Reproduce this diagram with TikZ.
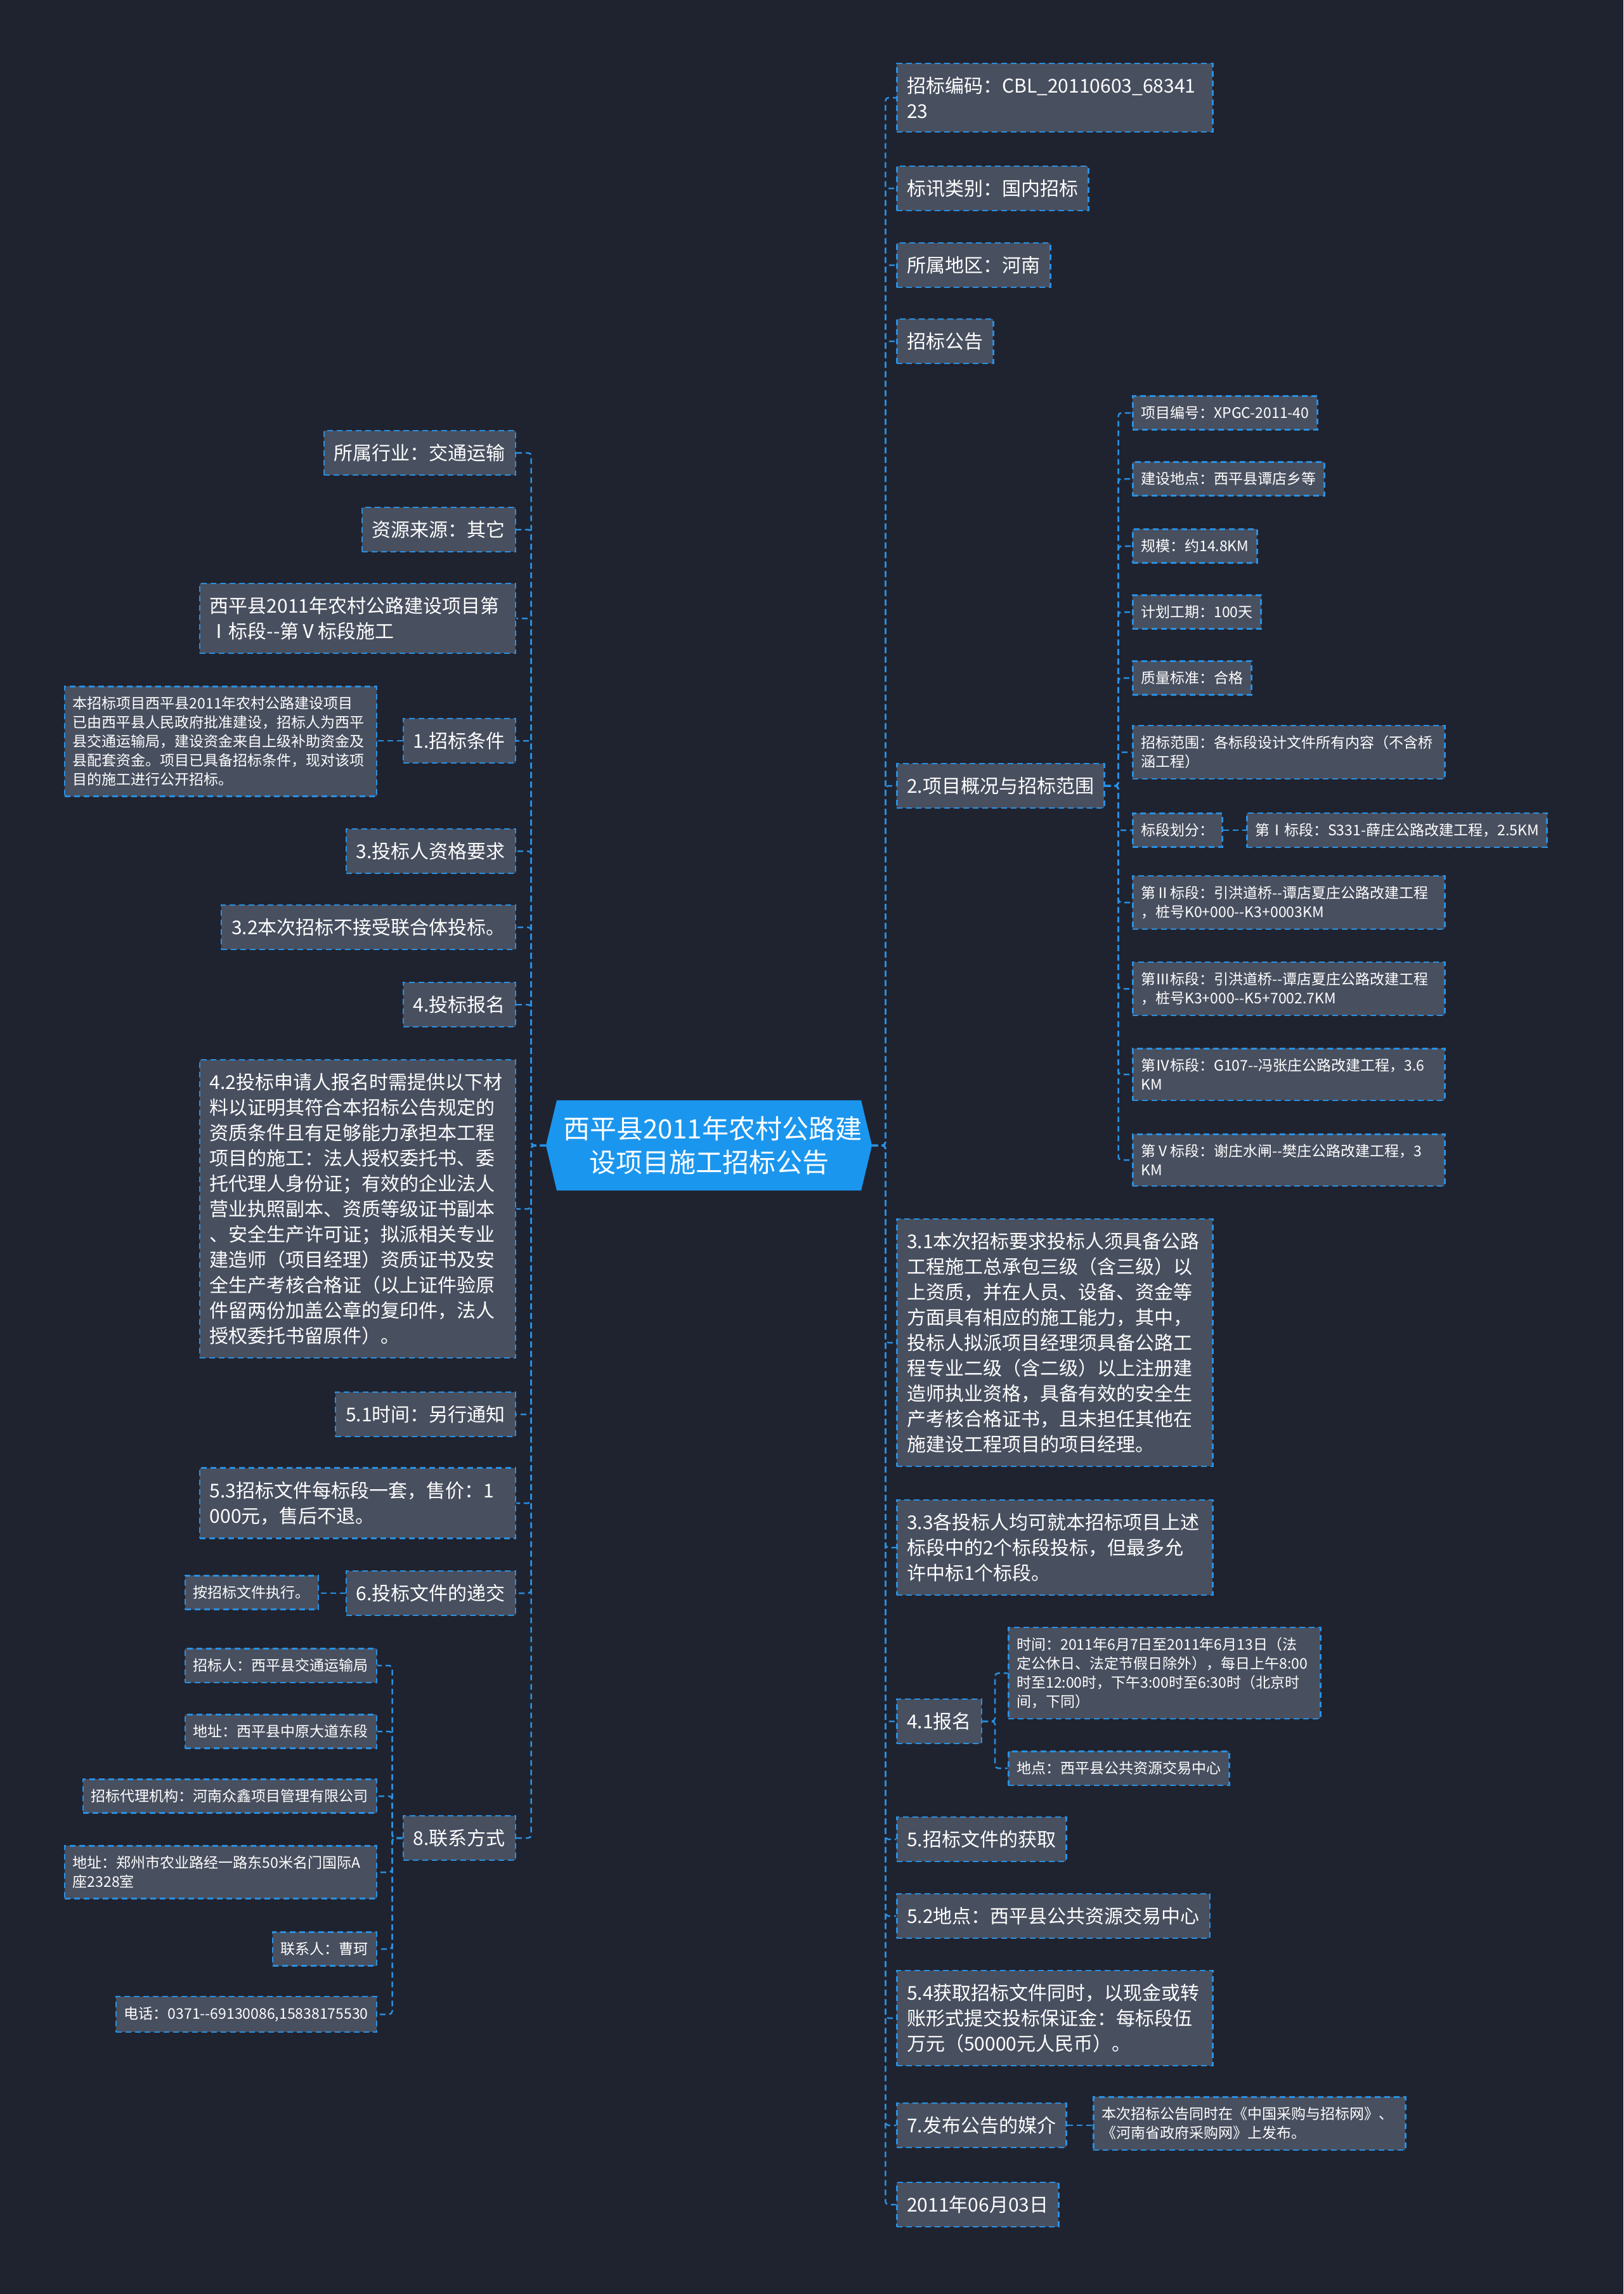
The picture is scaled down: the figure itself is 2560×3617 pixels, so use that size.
\documentclass[tikz,border=0pt]{standalone}
\usepackage{fontspec}
\newfontfamily\cjk{Noto Sans CJK SC}
\usetikzlibrary{shapes.symbols}
\definecolor{bgdark}{RGB}{31,35,48}
\definecolor{boxgray}{RGB}{72,79,95}
\definecolor{lineblue}{RGB}{40,144,226}
\definecolor{rootblue}{RGB}{27,150,238}
\newcommand{\dbldash}{-\kern0pt-}
\tikzset{
    node style root/.style={shape=signal,signal to=west and east,signal pointer angle=153,fill=rootblue,text=white,align=center,text width=460pt,inner xsep=10pt,inner ysep=25pt,font=\cjk\fontsize{42}{53}\selectfont},
    node style box/.style={draw=lineblue,fill=boxgray,text=white,align=left,line width=2.5pt,dash pattern=on 9pt off 6pt},
    node style topic/.style={node style box,inner xsep=16pt,inner ysep=21pt,font=\cjk\fontsize{30}{40}\selectfont},
    node style leaf/.style={node style box,inner xsep=13pt,inner ysep=16pt,font=\cjk\fontsize{23}{30}\selectfont},
    node style wide/.style={text width=466pt},
    edge style link/.style={draw=lineblue,line width=2.5pt,dash pattern=on 9pt off 6pt,rounded corners=5pt},
}

\begin{document}
\begin{tikzpicture}[x=1pt,y=-1pt]

\fill[bgdark] (0,0) rectangle (2560,3617);

\node [node style root] (root) at (1118,1806) {西平县2011年农村公路建\\设项目施工招标公告};

% right side
\node [node style topic,node style wide,anchor=west] (tenderCode) at (1413,154) {招标编码：CBL\_20110603\_68341\\23};
\node [node style topic,anchor=west] (tenderType) at (1413,297) {标讯类别：国内招标};
\node [node style topic,anchor=west] (region) at (1413,418) {所属地区：河南};
\node [node style topic,anchor=west] (notice) at (1413,538) {招标公告};
\node [node style topic,anchor=west] (overview) at (1413,1239) {2.项目概况与招标范围};
\node [node style topic,node style wide,anchor=west] (bidderReq) at (1413,2117) {3.1本次招标要求投标人须具备公路\\工程施工总承包三级（含三级）以\\上资质，并在人员、设备、资金等\\方面具有相应的施工能力，其中，\\投标人拟派项目经理须具备公路工\\程专业二级（含二级）以上注册建\\造师执业资格，具备有效的安全生\\产考核合格证书，且未担任其他在\\施建设工程项目的项目经理。};
\node [node style topic,node style wide,anchor=west] (twoLots) at (1413,2440) {3.3各投标人均可就本招标项目上述\\标段中的2个标段投标，但最多允\\许中标1个标段。};
\node [node style topic,anchor=west] (signUp) at (1413,2714) {4.1报名};
\node [node style topic,anchor=west] (getDocs) at (1413,2900) {5.招标文件的获取};
\node [node style topic,anchor=west] (getPlace) at (1413,3021) {5.2地点：西平县公共资源交易中心};
\node [node style topic,node style wide,anchor=west] (deposit) at (1413,3182) {5.4获取招标文件同时，以现金或转\\账形式提交投标保证金：每标段伍\\万元（50000元人民币）。};
\node [node style topic,anchor=west] (media) at (1413,3351) {7.发布公告的媒介};
\node [node style topic,anchor=west] (date) at (1413,3476) {2011年06月03日};

\node [node style leaf,anchor=west] (projNo) at (1785,651) {项目编号：XPGC-2011-40};
\node [node style leaf,anchor=west] (site) at (1785,755) {建设地点：西平县谭店乡等};
\node [node style leaf,anchor=west] (scale) at (1785,861) {规模：约14.8KM};
\node [node style leaf,anchor=west] (period) at (1785,965) {计划工期：100天};
\node [node style leaf,anchor=west] (quality) at (1785,1069) {质量标准：合格};
\node [node style leaf,node style wide,anchor=west] (scope) at (1785,1186) {招标范围：各标段设计文件所有内容（不含桥\\涵工程）};
\node [node style leaf,anchor=west] (lots) at (1785,1309) {标段划分：};
\node [node style leaf,anchor=west] (lotOne) at (1965,1309) {第Ⅰ标段：S331-薛庄公路改建工程，2.5KM};
\node [node style leaf,node style wide,anchor=west] (lotTwo) at (1785,1423) {第Ⅱ标段：引洪道桥\dbldash 谭店夏庄公路改建工程\\，桩号K0+000\dbldash K3+0003KM};
\node [node style leaf,node style wide,anchor=west] (lotThree) at (1785,1559) {第Ⅲ标段：引洪道桥\dbldash 谭店夏庄公路改建工程\\，桩号K3+000\dbldash K5+7002.7KM};
\node [node style leaf,node style wide,anchor=west] (lotFour) at (1785,1694) {第Ⅳ标段：G107\dbldash 冯张庄公路改建工程，3.6\\KM};
\node [node style leaf,node style wide,anchor=west] (lotFive) at (1785,1829) {第Ⅴ标段：谢庄水闸\dbldash 樊庄公路改建工程，3\\KM};

\node [node style leaf,node style wide,anchor=west] (signTime) at (1589,2638) {时间：2011年6月7日至2011年6月13日（法\\定公休日、法定节假日除外），每日上午8:00\\时至12:00时，下午3:00时至6:30时（北京时\\间，下同）};
\node [node style leaf,anchor=west] (signPlace) at (1589,2788) {地点：西平县公共资源交易中心};
\node [node style leaf,node style wide,anchor=west] (mediaText) at (1723,3348) {本次招标公告同时在《中国采购与招标网》、\\《河南省政府采购网》上发布。};

% left side
\node [node style topic,anchor=east] (industry) at (814,714) {所属行业：交通运输};
\node [node style topic,anchor=east] (source) at (814,835) {资源来源：其它};
\node [node style topic,node style wide,anchor=east] (title) at (814,975) {西平县2011年农村公路建设项目第\\Ⅰ标段\dbldash 第Ⅴ标段施工};
\node [node style topic,anchor=east] (condition) at (814,1168) {1.招标条件};
\node [node style topic,anchor=east] (bidderQual) at (814,1342) {3.投标人资格要求};
\node [node style topic,anchor=east] (noJoint) at (814,1462) {3.2本次招标不接受联合体投标。};
\node [node style topic,anchor=east] (register) at (814,1584) {4.投标报名};
\node [node style topic,node style wide,anchor=east] (materials) at (814,1906) {4.2投标申请人报名时需提供以下材\\料以证明其符合本招标公告规定的\\资质条件且有足够能力承担本工程\\项目的施工：法人授权委托书、委\\托代理人身份证；有效的企业法人\\营业执照副本、资质等级证书副本\\、安全生产许可证；拟派相关专业\\建造师（项目经理）资质证书及安\\全生产考核合格证（以上证件验原\\件留两份加盖公章的复印件，法人\\授权委托书留原件）。};
\node [node style topic,anchor=east] (saleTime) at (814,2230) {5.1时间：另行通知};
\node [node style topic,node style wide,anchor=east] (price) at (814,2370) {5.3招标文件每标段一套，售价：1\\000元，售后不退。};
\node [node style topic,anchor=east] (submit) at (814,2512) {6.投标文件的递交};
\node [node style topic,anchor=east] (contact) at (814,2898) {8.联系方式};

\node [node style leaf,node style wide,anchor=east] (condText) at (595,1169) {本招标项目西平县2011年农村公路建设项目\\已由西平县人民政府批准建设，招标人为西平\\县交通运输局，建设资金来自上级补助资金及\\县配套资金。项目已具备招标条件，现对该项\\目的施工进行公开招标。};
\node [node style leaf,anchor=east] (submitText) at (503,2511) {按招标文件执行。};
\node [node style leaf,anchor=east] (tenderer) at (595,2626) {招标人：西平县交通运输局};
\node [node style leaf,anchor=east] (addrOne) at (595,2730) {地址：西平县中原大道东段};
\node [node style leaf,anchor=east] (agency) at (595,2832) {招标代理机构：河南众鑫项目管理有限公司};
\node [node style leaf,node style wide,anchor=east] (addrTwo) at (595,2952) {地址：郑州市农业路经一路东50米名门国际A\\座2328室};
\node [node style leaf,anchor=east] (person) at (595,3073) {联系人：曹珂};
\node [node style leaf,anchor=east] (phone) at (595,3176) {电话：0371\dbldash 69130086,15838175530};

% links
\draw [edge style link] (root.east) -- ++(21,0) |- (tenderCode.west);
\draw [edge style link] (root.east) -- ++(21,0) |- (tenderType.west);
\draw [edge style link] (root.east) -- ++(21,0) |- (region.west);
\draw [edge style link] (root.east) -- ++(21,0) |- (notice.west);
\draw [edge style link] (root.east) -- ++(21,0) |- (overview.west);
\draw [edge style link] (root.east) -- ++(21,0) |- (bidderReq.west);
\draw [edge style link] (root.east) -- ++(21,0) |- (twoLots.west);
\draw [edge style link] (root.east) -- ++(21,0) |- (signUp.west);
\draw [edge style link] (root.east) -- ++(21,0) |- (getDocs.west);
\draw [edge style link] (root.east) -- ++(21,0) |- (getPlace.west);
\draw [edge style link] (root.east) -- ++(21,0) |- (deposit.west);
\draw [edge style link] (root.east) -- ++(21,0) |- (media.west);
\draw [edge style link] (root.east) -- ++(21,0) |- (date.west);

\draw [edge style link] (overview.east) -- ++(21,0) |- (projNo.west);
\draw [edge style link] (overview.east) -- ++(21,0) |- (site.west);
\draw [edge style link] (overview.east) -- ++(21,0) |- (scale.west);
\draw [edge style link] (overview.east) -- ++(21,0) |- (period.west);
\draw [edge style link] (overview.east) -- ++(21,0) |- (quality.west);
\draw [edge style link] (overview.east) -- ++(21,0) |- (scope.west);
\draw [edge style link] (overview.east) -- ++(21,0) |- (lots.west);
\draw [edge style link] (overview.east) -- ++(21,0) |- (lotTwo.west);
\draw [edge style link] (overview.east) -- ++(21,0) |- (lotThree.west);
\draw [edge style link] (overview.east) -- ++(21,0) |- (lotFour.west);
\draw [edge style link] (overview.east) -- ++(21,0) |- (lotFive.west);
\draw [edge style link] (lots.east) -- (lotOne.west);

\draw [edge style link] (signUp.east) -- ++(20,0) |- (signTime.west);
\draw [edge style link] (signUp.east) -- ++(20,0) |- (signPlace.west);
\draw [edge style link] (media.east) -- (media.east -| mediaText.west);

\draw [edge style link] (root.west) -- ++(-23,0) |- (industry.east);
\draw [edge style link] (root.west) -- ++(-23,0) |- (source.east);
\draw [edge style link] (root.west) -- ++(-23,0) |- (title.east);
\draw [edge style link] (root.west) -- ++(-23,0) |- (condition.east);
\draw [edge style link] (root.west) -- ++(-23,0) |- (bidderQual.east);
\draw [edge style link] (root.west) -- ++(-23,0) |- (noJoint.east);
\draw [edge style link] (root.west) -- ++(-23,0) |- (register.east);
\draw [edge style link] (root.west) -- ++(-23,0) |- (materials.east);
\draw [edge style link] (root.west) -- ++(-23,0) |- (saleTime.east);
\draw [edge style link] (root.west) -- ++(-23,0) |- (price.east);
\draw [edge style link] (root.west) -- ++(-23,0) |- (submit.east);
\draw [edge style link] (root.west) -- ++(-23,0) |- (contact.east);

\draw [edge style link] (condition.west) -- (condition.west -| condText.east);
\draw [edge style link] (submit.west) -- (submit.west -| submitText.east);
\draw [edge style link] (contact.west) -- ++(-16,0) |- (tenderer.east);
\draw [edge style link] (contact.west) -- ++(-16,0) |- (addrOne.east);
\draw [edge style link] (contact.west) -- ++(-16,0) |- (agency.east);
\draw [edge style link] (contact.west) -- ++(-16,0) |- (addrTwo.east);
\draw [edge style link] (contact.west) -- ++(-16,0) |- (person.east);
\draw [edge style link] (contact.west) -- ++(-16,0) |- (phone.east);

\end{tikzpicture}
\end{document}
